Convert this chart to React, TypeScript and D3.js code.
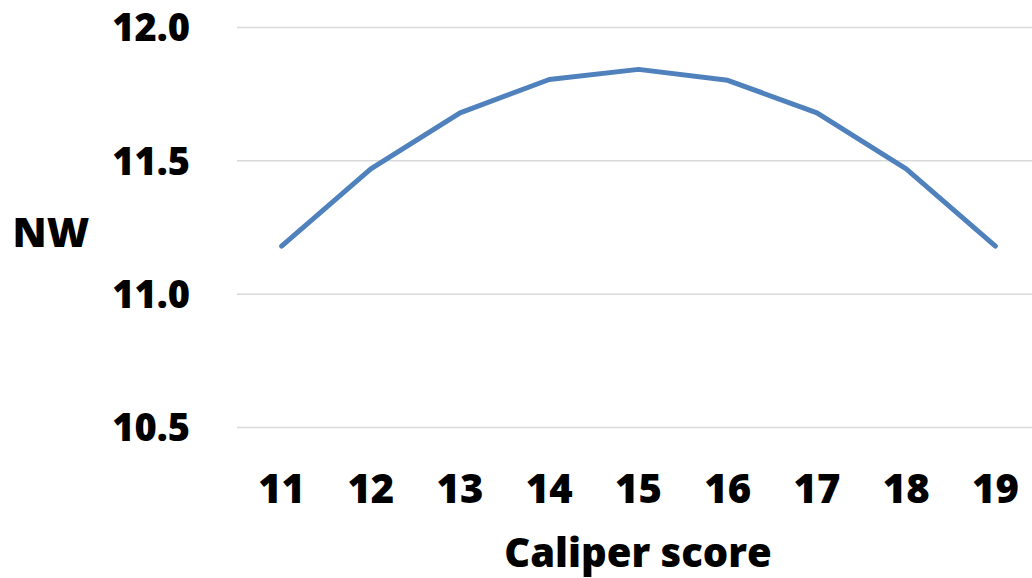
import React, { useEffect, useRef } from "react";
import * as d3 from "d3";

const categories = ["11", "12", "13", "14", "15", "16", "17", "18", "19"];
const nwValues = [11.18, 11.47, 11.68, 11.805, 11.843, 11.802, 11.68, 11.47, 11.18];
const yTicks = [10.5, 11.0, 11.5, 12.0];

const App = () => {
  const svgRef = useRef(null);

  useEffect(() => {
    const width = 1032;
    const height = 578;
    const svg = d3.select(svgRef.current);
    svg.selectAll("*").remove();
    svg.attr("width", width).attr("height", height).style("background", "white");

    const font = "'Open Sans', sans-serif";

    const x = d3.scaleBand().domain(categories).range([237, 1040]);
    const y = d3.scaleLinear().domain([10.5, 12.0]).range([427.5, 27.5]);

    // gridlines
    svg
      .append("g")
      .selectAll("line")
      .data(yTicks)
      .join("line")
      .attr("x1", 237)
      .attr("x2", width)
      .attr("y1", (d) => y(d))
      .attr("y2", (d) => y(d))
      .attr("stroke", "#d9d9d9")
      .attr("stroke-width", 1.5);

    // y tick labels
    svg
      .append("g")
      .selectAll("text")
      .data(yTicks)
      .join("text")
      .attr("x", 190)
      .attr("y", (d) => y(d))
      .attr("dy", "0.36em")
      .attr("text-anchor", "end")
      .attr("font-family", font)
      .attr("font-weight", 800)
      .attr("font-size", 38)
      .attr("fill", "#000")
      .text((d) => d3.format(".1f")(d));

    // x tick labels
    svg
      .append("g")
      .selectAll("text")
      .data(categories)
      .join("text")
      .attr("x", (d) => x(d) + x.bandwidth() / 2)
      .attr("y", 503)
      .attr("text-anchor", "middle")
      .attr("font-family", font)
      .attr("font-weight", 800)
      .attr("font-size", 40)
      .attr("fill", "#000")
      .text((d) => d);

    // axis titles
    svg
      .append("text")
      .attr("x", 51)
      .attr("y", 232)
      .attr("dy", "0.36em")
      .attr("text-anchor", "middle")
      .attr("font-family", font)
      .attr("font-weight", 800)
      .attr("font-size", 41)
      .text("NW");

    svg
      .append("text")
      .attr("x", 638)
      .attr("y", 567)
      .attr("text-anchor", "middle")
      .attr("font-family", font)
      .attr("font-weight", 800)
      .attr("font-size", 40)
      .text("Caliper score");

    const line = d3
      .line()
      .x((_, i) => x(categories[i]) + x.bandwidth() / 2)
      .y((d) => y(d));

    svg
      .append("path")
      .datum(nwValues)
      .attr("fill", "none")
      .attr("stroke", "#4f81bd")
      .attr("stroke-width", 5)
      .attr("stroke-linecap", "round")
      .attr("stroke-linejoin", "round")
      .attr("d", line);
  }, []);

  return (
    <div style={{ position: "fixed", left: 0, top: 0 }}>
      <svg ref={svgRef}></svg>
    </div>
  );
};

export default App;
